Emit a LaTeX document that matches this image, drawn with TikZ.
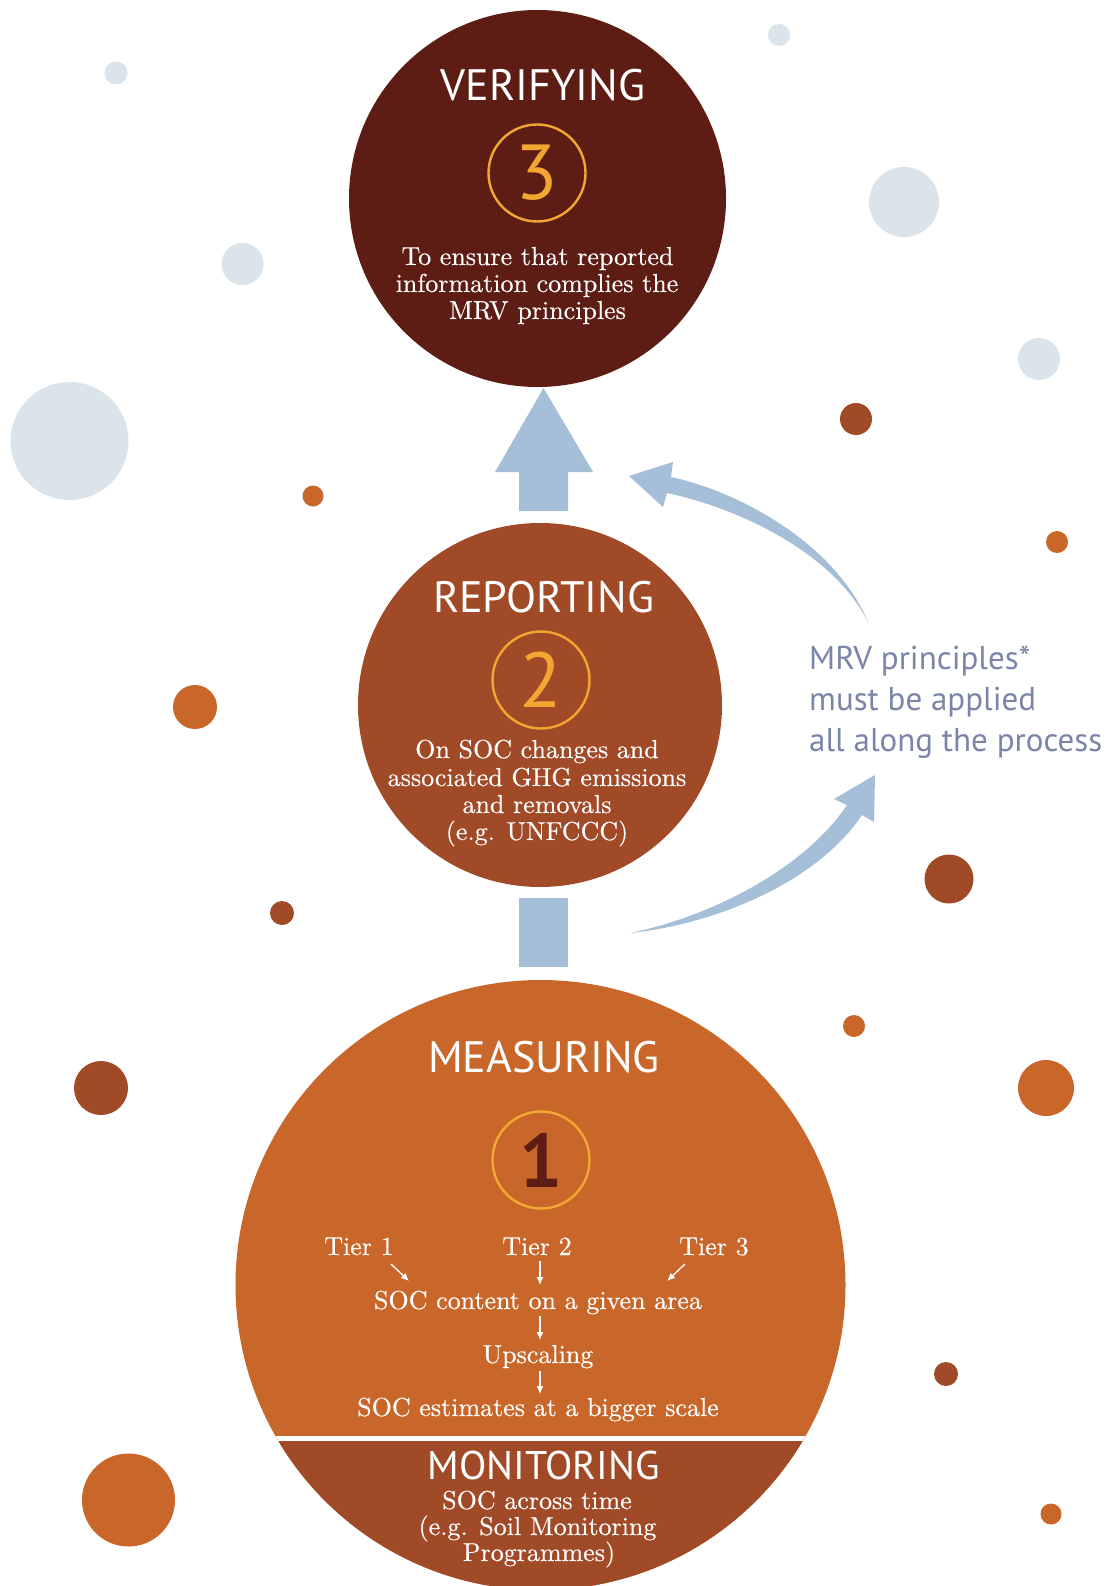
\documentclass[tikz,border=0pt]{standalone}
\usepackage{fontspec}
\newfontfamily\sansfam{PT Sans}
\newfontfamily\bodyfam{lmroman10-regular.otf}[FakeBold=0.3]
\usetikzlibrary{arrows.meta}
\definecolor{verif}{HTML}{5E1D14}
\definecolor{rust}{HTML}{A14A27}
\definecolor{orng}{HTML}{C9672B}
\definecolor{pale}{HTML}{DAE4EA}
\definecolor{arrowblue}{HTML}{A4BFD7}
\definecolor{numgold}{HTML}{F2A733}
\definecolor{mrvtext}{HTML}{7A85A8}
\begin{document}
\begin{tikzpicture}[x=1pt,y=-1pt,
  disc/.style={circle, inner sep=0pt, draw=none, minimum size=#1},
  numring/.style={circle, draw=numgold, line width=2.4pt, minimum size=97pt, inner sep=0pt, text=numgold, font=\sansfam\fontsize{78}{78}\selectfont},
  title/.style={text=white, anchor=base, inner sep=0pt, font=\sansfam\fontsize{44}{50}\selectfont},
  body/.style={text=white, anchor=base, inner sep=0pt, font=\bodyfam\fontsize{26}{27}\selectfont},
  mrv/.style={text=mrvtext, anchor=base west, inner sep=0pt, font=\sansfam\fontsize{33}{41}\selectfont},
  smallarrow/.style={draw=white, line width=1.3pt, -{Latex[length=8pt,width=7pt]}},
  blockarrow/.style={fill=arrowblue, draw=none}
]
\useasboundingbox (0,0) rectangle (1108,1586);
\fill[white] (0,0) rectangle (1108,1586);

% background dots
\fill[pale] (116,73) circle (11.5pt);
\fill[pale] (779,35) circle (11pt);
\fill[pale] (904,202) circle (35pt);
\fill[pale] (242.5,264) circle (21pt);
\fill[pale] (1039,359) circle (21pt);
\fill[pale] (69.5,441) circle (59pt);
\fill[rust] (856,419) circle (16pt);
\fill[orng] (313,496) circle (10.5pt);
\fill[orng] (1057,542) circle (11pt);
\fill[orng] (195,707) circle (22pt);
\fill[rust] (949,879) circle (24.5pt);
\fill[rust] (282,913) circle (12pt);
\fill[orng] (854,1026) circle (11pt);
\fill[rust] (101,1088) circle (27pt);
\fill[orng] (1046,1088) circle (28pt);
\fill[rust] (946,1374) circle (12pt);
\fill[orng] (128.5,1500) circle (46.5pt);
\fill[orng] (1051,1514) circle (10.5pt);

% main circles
\node[disc=377pt, fill=verif] (ver) at (537.5,198.5) {};
\node[disc=364pt, fill=rust] (rep) at (540,705) {};
\node[disc=610pt, fill=orng] (mea) at (540.5,1285) {};
\begin{scope}
  \clip (mea.center) circle (305pt);
  \fill[rust] (200,1438) rectangle (900,1600);
  \draw[white, line width=5.5pt] (200,1438.5) -- (900,1438.5);
\end{scope}

% block arrows
\coordinate (up1) at (543.5,511);
\coordinate (up2) at (543.5,388);
\fill[blockarrow] (519,511) -- (519,472) -- (495,472) -- (up2) -- (593,472) -- (568,472) -- (568,511) -- cycle;
\fill[blockarrow] (519,898) rectangle (568,967);

% curved arrows
\fill[blockarrow] (868,622) .. controls (836,545) and (741,492) .. (671,477)
  -- (673,462) -- (629,476) -- (663,507) -- (667,493)
  .. controls (737,508) and (832,551) .. (868,622) -- cycle;
\fill[blockarrow] (630,933) .. controls (705,918) and (802,872) .. (847,805)
  -- (834,799) -- (875,775) -- (874,822) -- (862,815)
  .. controls (815,885) and (710,925) .. (630,933) -- cycle;

% verifying
\node[title] (vt) at (543,101) {VERIFYING};
\node[numring] (n3) at (537,173) {3};
\node[body] (v1) at (537.5,265) {To ensure that reported};
\node[body] (v2) at (537,292) {information complies the};
\node[body] (v3) at (537.5,319) {MRV principles};

% reporting
\node[title] (rt) at (543.5,612) {REPORTING};
\node[numring] (n2) at (541,680) {2};
\node[body] (r1) at (537,758) {On SOC changes and};
\node[body] (r2) at (537,786) {associated GHG emissions};
\node[body] (r3) at (537,813) {and removals};
\node[body] (r4) at (537,840) {(e.g. UNFCCC)};

% measuring
\node[title] (mt) at (544,1072) {MEASURING};
\node[numring, text=verif, font=\sansfam\bfseries\fontsize{76}{76}\selectfont] (n1) at (541,1160) {1};
\node[body] (t1) at (359,1255) {Tier 1};
\node[body] (t2) at (537,1255) {Tier 2};
\node[body] (t3) at (714,1255) {Tier 3};
\node[body] (s1) at (538,1309) {SOC content on a given area};
\node[body] (s2) at (538,1363) {Upscaling};
\node[body] (s3) at (538,1416) {SOC estimates at a bigger scale};
\coordinate (t1a) at (391,1264);  \coordinate (t1b) at (409,1281);
\coordinate (t2a) at (540,1261);  \coordinate (t2b) at (540,1285);
\coordinate (t3a) at (685,1264);  \coordinate (t3b) at (667,1281);
\coordinate (s1a) at (540,1316);  \coordinate (s1b) at (540,1340);
\coordinate (s2a) at (540,1371);  \coordinate (s2b) at (540,1394);
\draw[smallarrow] (t1a) -- (t1b);
\draw[smallarrow] (t2a) -- (t2b);
\draw[smallarrow] (t3a) -- (t3b);
\draw[smallarrow] (s1a) -- (s1b);
\draw[smallarrow] (s2a) -- (s2b);

% monitoring
\node[title, font=\sansfam\fontsize{40}{44}\selectfont] (mo) at (543.5,1479) {MONITORING};
\node[body] (m1) at (537,1509) {SOC across time};
\node[body] (m2) at (537.5,1535) {(e.g. Soil Monitoring};
\node[body] (m3) at (539,1561) {Programmes)};

% MRV note
\node[mrv] (p1) at (809,669) {MRV principles*};
\node[mrv] (p2) at (809,710) {must be applied};
\node[mrv] (p3) at (809,751) {all along the process};
\end{tikzpicture}
\end{document}
